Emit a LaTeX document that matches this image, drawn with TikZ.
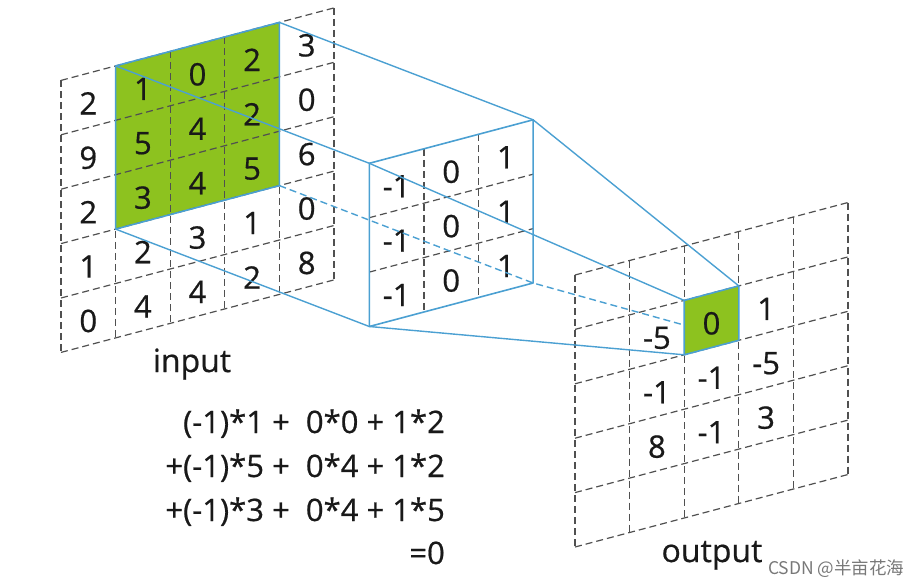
\documentclass[tikz,border=0pt]{standalone}
\usepackage{fontspec}
\setmainfont[FakeBold=0.6]{Open Sans}
\newfontfamily\cjkfont{Noto Sans CJK SC}
\definecolor{kgreen}{RGB}{141,194,31}
\definecolor{kblue}{RGB}{75,160,210}
\definecolor{gline}{RGB}{80,80,80}
\definecolor{wmgray}{RGB}{120,120,120}

\begin{document}
\begin{tikzpicture}[x=1pt, y=-1pt,
  num/.style={inner sep=0pt, text=black!90, yshift=-3pt, font=\fontsize{31}{36}\selectfont},
  lbl/.style={inner sep=0pt, text=black!90, font=\fontsize{32}{38}\selectfont},
  gl/.style={draw=gline, line width=1.2pt, dash pattern=on 7pt off 4pt},
  bl/.style={draw=kblue, line width=1.6pt, line join=round},
  lk/.style={draw=kblue, line width=1.4pt},
  skewgrid/.style={x={(54.6pt,14.5pt)}, y={(0pt,-54.4pt)}}
]
\useasboundingbox (0,0) rectangle (919,587);

% --- input 5x5, window in green ---
\begin{scope}[shift={(61,80.4)}, skewgrid]
  \fill[kgreen] (1,0) -- (4,0) -- (4,3) -- (1,3) -- cycle;
  \foreach \i in {0,...,5} {
    \draw[gl] (\i,0) -- (\i,5);
    \draw[gl] (0,\i) -- (5,\i);
  }
  \draw[bl] (1,0) -- (4,0) -- (4,3) -- (1,3) -- cycle;
  \coordinate (inTL) at (1,0);
  \coordinate (inTR) at (4,0);
  \coordinate (inBR) at (4,3);
  \coordinate (inBL) at (1,3);
  \foreach \row [count=\yy from 0] in {{2,1,0,2,3},{9,5,4,2,0},{2,3,4,5,6},{1,2,3,1,0},{0,4,4,2,8}}
    \foreach \v [count=\xx from 0] in \row
      \node[num] (in-\xx-\yy) at (\xx+0.5,\yy+0.5) {\v};
\end{scope}

% --- kernel 3x3 ---
\begin{scope}[shift={(369.3,163.3)}, skewgrid]
  \foreach \i in {1,2} {
    \draw[gl] (\i,0) -- (\i,3);
    \draw[gl] (0,\i) -- (3,\i);
  }
  \draw[bl] (0,0) -- (3,0) -- (3,3) -- (0,3) -- cycle;
  \coordinate (kTL) at (0,0);
  \coordinate (kTR) at (3,0);
  \coordinate (kBR) at (3,3);
  \coordinate (kBL) at (0,3);
  \foreach \yy in {0,1,2} {
    \node[num] (k-0-\yy) at (0.5,\yy+0.5) {-1};
    \node[num] (k-1-\yy) at (1.5,\yy+0.5) {0};
    \node[num] (k-2-\yy) at (2.5,\yy+0.5) {1};
  }
\end{scope}

% --- output 5x5 ---
\begin{scope}[shift={(575,275)}, skewgrid]
  \foreach \i in {0,...,5} {
    \draw[gl] (\i,0) -- (\i,5);
    \draw[gl] (0,\i) -- (5,\i);
  }
  \coordinate (oTL) at (2,1);
  \coordinate (oTR) at (3,1);
  \coordinate (oBR) at (3,2);
  \coordinate (oBL) at (2,2);
\end{scope}

% --- projection lines ---
\draw[lk] (inTL) -- (kTL) -- (oTL);
\draw[lk] (inTR) -- (kTR) -- (oTR);
\draw[lk] (inBL) -- (kBL) -- (oBL);
\draw[lk, dash pattern=on 7pt off 4pt] (inBR) -- (kBR) -- (oBR);

% result cell on top
\fill[kgreen] (oTL) -- (oTR) -- (oBR) -- (oBL) -- cycle;
\draw[bl] (oTL) -- (oTR) -- (oBR) -- (oBL) -- cycle;

\begin{scope}[shift={(575,275)}, skewgrid]
  \foreach \row [count=\yy from 1] in {{-5,0,1},{-1,-1,-5},{8,-1,3}}
    \foreach \v [count=\xx from 1] in \row
      \node[num] (out-\xx-\yy) at (\xx+0.5,\yy+0.5) {\v};
\end{scope}

% --- labels and sum ---
\node[lbl, anchor=base] (inlabel) at (192,372) {input};
\node[lbl, anchor=base] (outlabel) at (712,562) {output};

\node[num, yshift=0pt, anchor=base east] (f1) at (445,430) {(-1)*1 +\ \ 0*0 + 1*2};
\node[num, yshift=0pt, anchor=base east] (f2) at (445,474) {+(-1)*5 +\ \ 0*4 + 1*2};
\node[num, yshift=0pt, anchor=base east] (f3) at (445,518) {+(-1)*3 +\ \ 0*4 + 1*5};
\node[num, yshift=0pt, anchor=base east] (f4) at (445,561) {=0};

\node[anchor=base west, inner sep=0pt, text=wmgray, font=\cjkfont\fontsize{17.5}{20}\selectfont] (wm) at (768,574) {CSDN @半亩花海};

\end{tikzpicture}
\end{document}
